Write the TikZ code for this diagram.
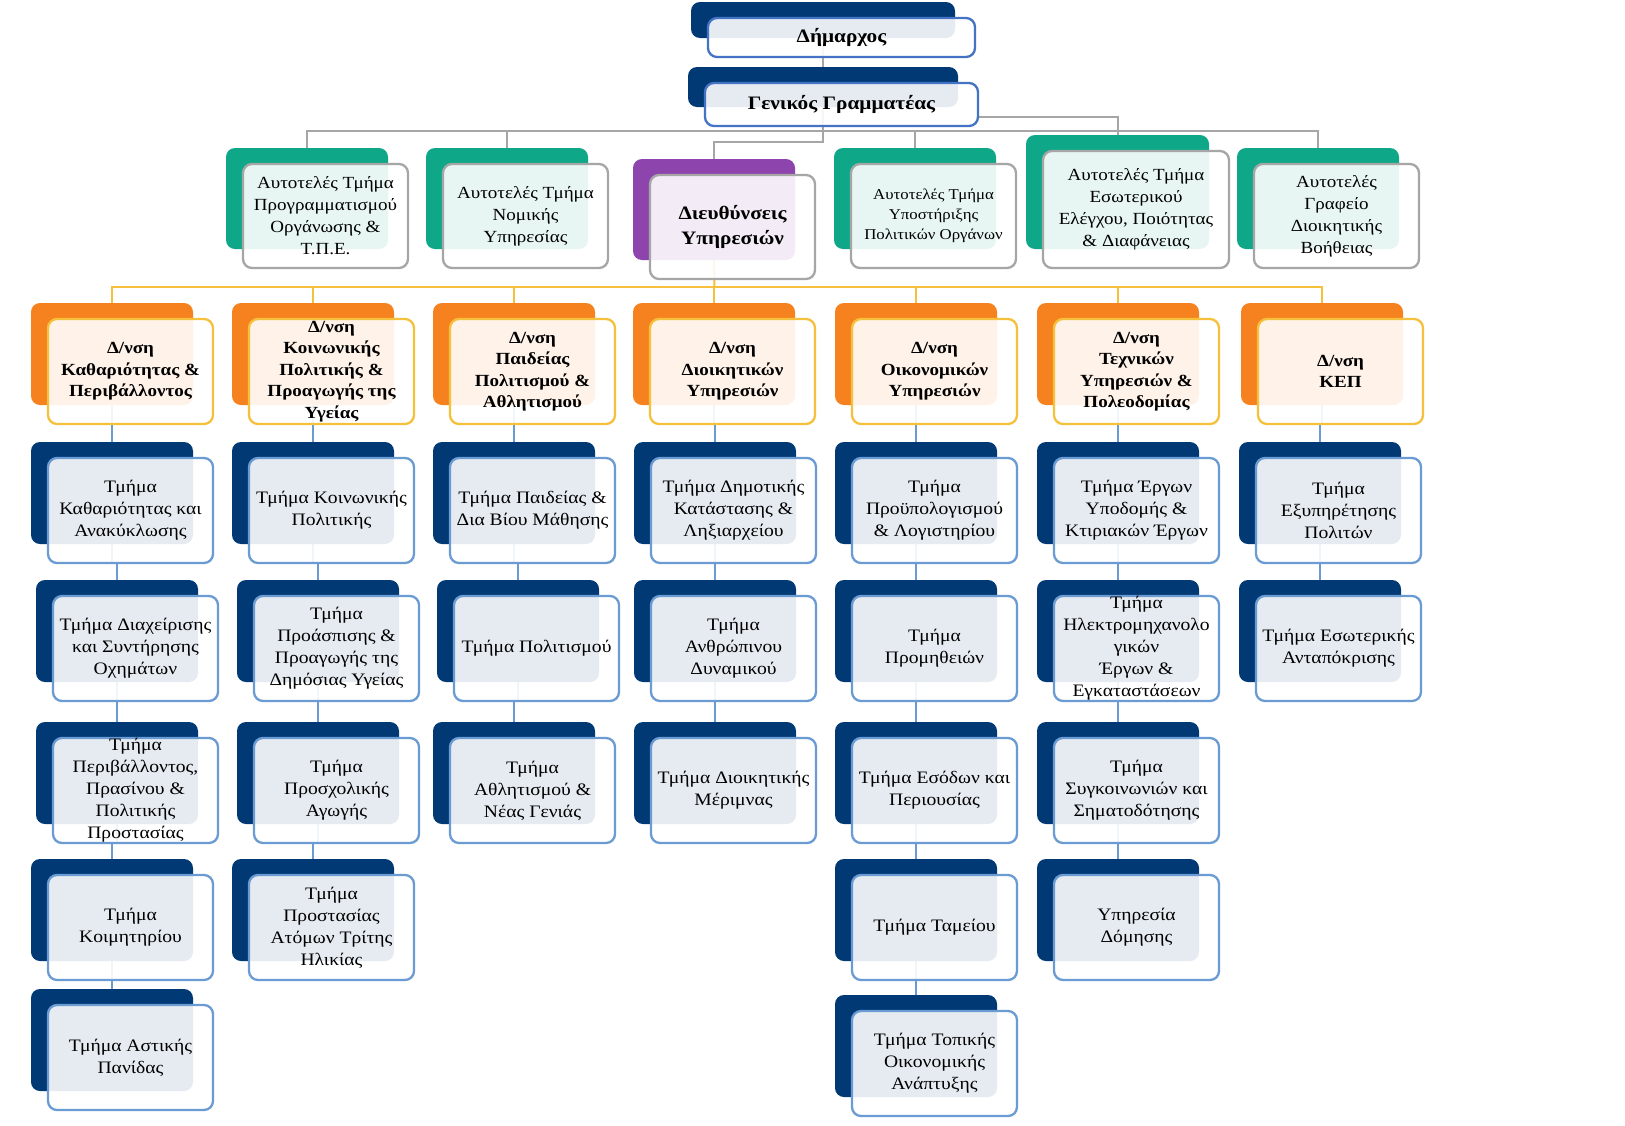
\documentclass[tikz,border=0pt]{standalone}
\usepackage{fontspec}
\setmainfont{Liberation Serif}[FakeStretch=1.12]
\usetikzlibrary{calc}
\pgfdeclarelayer{bg}
\pgfsetlayers{bg,main}
\definecolor{navy}{RGB}{1,57,117}
\definecolor{grn}{RGB}{14,168,137}
\definecolor{purp}{RGB}{142,68,173}
\definecolor{orng}{RGB}{245,130,31}
\definecolor{ylw}{RGB}{245,193,60}
\definecolor{lblue}{RGB}{106,155,210}
\definecolor{mblue}{RGB}{68,114,196}
\definecolor{gry}{RGB}{166,166,166}
\tikzset{
  backbox/.style={rounded corners=9pt, draw=none, inner sep=0pt, outer sep=0pt, anchor=north west},
  frontbox/.style={rounded corners=9pt, fill=white, fill opacity=0.9, line width=2.3pt, inner sep=0pt, outer sep=0pt, anchor=north west},
  lbl/.style={align=center, inner sep=0pt, text=black},
  tone/.style={font=\fontsize{19}{22}\selectfont\bfseries},
  ttwo/.style={font=\fontsize{17}{22}\selectfont},
  tsmall/.style={font=\fontsize{15}{20}\selectfont},
  tdir/.style={font=\fontsize{19}{25}\selectfont\bfseries},
  tthree/.style={font=\fontsize{17}{21.5}\selectfont\bfseries},
  tfour/.style={font=\fontsize{17.5}{22}\selectfont},
  gline/.style={draw=gry, line width=2pt},
  yline/.style={draw=ylw, line width=2pt},
  bline/.style={draw=lblue, line width=2.4pt},
}
% name, x, y, w, h, back colour, border colour, text style, text
\newcommand\pairbox[9]{%
  \node[backbox, fill=#6, minimum width=#4pt, minimum height=#5pt] (#1b) at (#2,#3) {};
  \node[frontbox, draw=#7, minimum width=#4pt+3pt, minimum height=#5pt+3pt] (#1) at (#2+17,#3+16) {};
  \node[lbl, #8] (#1t) at (#1.center) {#9};
}
\newcommand\lvfour[4]{\pairbox{#1}{#2}{#3}{162}{102}{navy}{lblue}{tfour}{#4}}
\newcommand\lvthree[3]{\pairbox{#1}{#2}{303}{162}{102}{orng}{ylw}{tthree}{#3}}
\newcommand\chainto[2]{\draw[bline] (#1b.south) -- (#1b.south |- #1.south) -| (#2b.north);}
\begin{document}
\begin{tikzpicture}[x=1pt,y=-1pt]
\useasboundingbox (0,0) rectangle (1625,1125);

% level 1
\pairbox{m}{691}{2}{264}{36}{navy}{mblue}{tone}{Δήμαρχος}
\pairbox{g}{688}{67}{270}{40}{navy}{mblue}{tone}{Γενικός Γραμματέας}

% level 2
\pairbox{aa}{226}{148}{162}{101}{grn}{gry}{ttwo}{Αυτοτελές Τμήμα\\Προγραμματισμού\\Οργάνωσης \&\\Τ.Π.Ε.}
\pairbox{ab}{426}{148}{162}{101}{grn}{gry}{ttwo}{Αυτοτελές Τμήμα\\Νομικής\\Υπηρεσίας}
\pairbox{d}{633}{159}{162}{101}{purp}{gry}{tdir}{Διευθύνσεις\\Υπηρεσιών}
\pairbox{ac}{834}{148}{162}{101}{grn}{gry}{tsmall}{Αυτοτελές Τμήμα\\Υποστήριξης\\Πολιτικών Οργάνων}
\pairbox{ad}{1026}{135}{183}{114}{grn}{gry}{ttwo}{Αυτοτελές Τμήμα\\Εσωτερικού\\Ελέγχου, Ποιότητας\\\& Διαφάνειας}
\pairbox{ae}{1237}{148}{162}{101}{grn}{gry}{ttwo}{Αυτοτελές\\Γραφείο\\Διοικητικής\\Βοήθειας}

% level 3
\lvthree{ca}{31}{Δ/νση\\Καθαριότητας \&\\Περιβάλλοντος}
\lvthree{cb}{232}{Δ/νση\\Κοινωνικής\\Πολιτικής \&\\Προαγωγής της\\Υγείας}
\lvthree{cc}{433}{Δ/νση\\Παιδείας\\Πολιτισμού \&\\Αθλητισμού}
\lvthree{cd}{633}{Δ/νση\\Διοικητικών\\Υπηρεσιών}
\lvthree{ce}{835}{Δ/νση\\Οικονομικών\\Υπηρεσιών}
\lvthree{cf}{1037}{Δ/νση\\Τεχνικών\\Υπηρεσιών \&\\Πολεοδομίας}
\lvthree{cg}{1241}{Δ/νση\\ΚΕΠ}

% level 4, column 1
\lvfour{pa}{31}{442}{Τμήμα\\Καθαριότητας και\\Ανακύκλωσης}
\lvfour{pb}{36}{580}{Τμήμα Διαχείρισης\\και Συντήρησης\\Οχημάτων}
\lvfour{pc}{36}{722}{Τμήμα\\Περιβάλλοντος,\\Πρασίνου \&\\Πολιτικής\\Προστασίας}
\lvfour{pd}{31}{859}{Τμήμα\\Κοιμητηρίου}
\lvfour{pe}{31}{989}{Τμήμα Αστικής\\Πανίδας}
% column 2
\lvfour{qa}{232}{442}{Τμήμα Κοινωνικής\\Πολιτικής}
\lvfour{qb}{237}{580}{Τμήμα\\Προάσπισης \&\\Προαγωγής της\\Δημόσιας Υγείας}
\lvfour{qc}{237}{722}{Τμήμα\\Προσχολικής\\Αγωγής}
\lvfour{qd}{232}{859}{Τμήμα\\Προστασίας\\Ατόμων Τρίτης\\Ηλικίας}
% column 3
\lvfour{ra}{433}{442}{Τμήμα Παιδείας \&\\Δια Βίου Μάθησης}
\lvfour{rb}{437}{580}{Τμήμα Πολιτισμού}
\lvfour{rc}{433}{722}{Τμήμα\\Αθλητισμού \&\\Νέας Γενιάς}
% column 4
\lvfour{sa}{634}{442}{Τμήμα Δημοτικής\\Κατάστασης \&\\Ληξιαρχείου}
\lvfour{sb}{634}{580}{Τμήμα\\Ανθρώπινου\\Δυναμικού}
\lvfour{sc}{634}{722}{Τμήμα Διοικητικής\\Μέριμνας}
% column 5
\lvfour{ta}{835}{442}{Τμήμα\\Προϋπολογισμού\\\& Λογιστηρίου}
\lvfour{tb}{835}{580}{Τμήμα\\Προμηθειών}
\lvfour{tc}{835}{722}{Τμήμα Εσόδων και\\Περιουσίας}
\lvfour{td}{835}{859}{Τμήμα Ταμείου}
\lvfour{te}{835}{995}{Τμήμα Τοπικής\\Οικονομικής\\Ανάπτυξης}
% column 6
\lvfour{ua}{1037}{442}{Τμήμα Έργων\\Υποδομής \&\\Κτιριακών Έργων}
\lvfour{ub}{1037}{580}{Τμήμα\\Ηλεκτρομηχανολο\\γικών\\Έργων \&\\Εγκαταστάσεων}
\lvfour{uc}{1037}{722}{Τμήμα\\Συγκοινωνιών και\\Σηματοδότησης}
\lvfour{ud}{1037}{859}{Υπηρεσία\\Δόμησης}
% column 7
\lvfour{va}{1239}{442}{Τμήμα\\Εξυπηρέτησης\\Πολιτών}
\lvfour{vb}{1239}{580}{Τμήμα Εσωτερικής\\Ανταπόκρισης}

\begin{pgfonlayer}{bg}
  \fill[white] (0,0) rectangle (1625,1125);
  \draw[gline] (mb.south) -- (gb.north);
  \coordinate (bus2) at (823,131);
  \coordinate (dj) at (823,142);
  \draw[gline] (gb.south) -- (dj) -| (db.north);
  \draw[gline] (aab.north) |- (bus2) -| (aeb.north);
  \draw[gline] (abb.north) -- (abb.north |- bus2);
  \draw[gline] (acb.north) -- (acb.north |- bus2);
  \draw[gline] ([yshift=-12pt]g.east) -| (adb.north);
  \coordinate (bus3) at (714.5,287);
  \draw[yline] (db.south) -- (bus3);
  \draw[yline] (cab.north) |- (bus3) -| (cgb.north);
  \foreach \c in {cb,cc,cd,ce,cf} {\draw[yline] (\c b.north) -- (\c b.north |- bus3);}
  \chainto{ca}{pa}\chainto{pa}{pb}\chainto{pb}{pc}\chainto{pc}{pd}\chainto{pd}{pe}
  \chainto{cb}{qa}\chainto{qa}{qb}\chainto{qb}{qc}\chainto{qc}{qd}
  \chainto{cc}{ra}\chainto{ra}{rb}\chainto{rb}{rc}
  \chainto{cd}{sa}\chainto{sa}{sb}\chainto{sb}{sc}
  \chainto{ce}{ta}\chainto{ta}{tb}\chainto{tb}{tc}\chainto{tc}{td}\chainto{td}{te}
  \chainto{cf}{ua}\chainto{ua}{ub}\chainto{ub}{uc}\chainto{uc}{ud}
  \chainto{cg}{va}\chainto{va}{vb}
\end{pgfonlayer}
\end{tikzpicture}
\end{document}
